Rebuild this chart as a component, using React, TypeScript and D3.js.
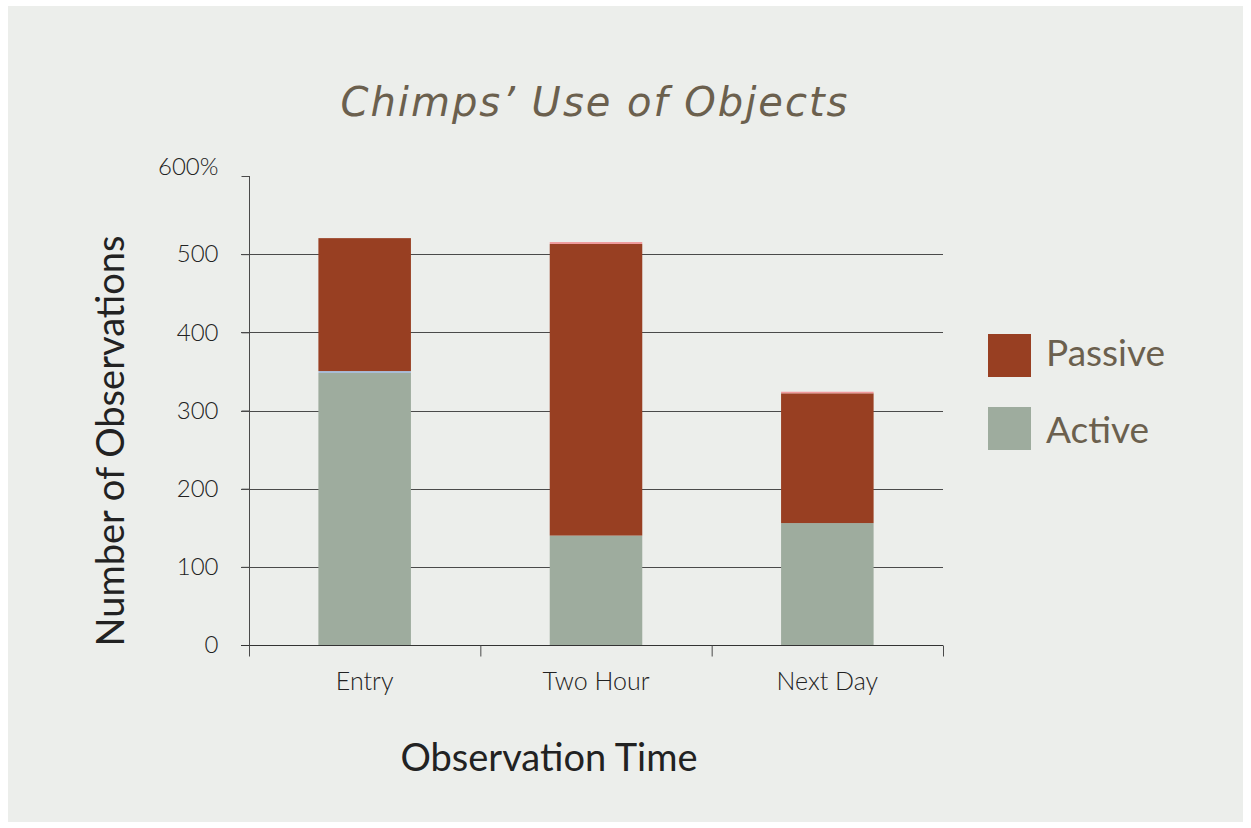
import React, { useEffect, useRef } from 'react';
import * as d3 from 'd3';

const categories = ['Entry', 'Two Hour', 'Next Day'];
const active = [348, 140, 156];
const boundary = [2.5, 0, 0];
const passive = [170, 373, 166];
const topSliver = [0, 2.5, 2];
const yTicks = [0, 100, 200, 300, 400, 500, 600];

const seriesKeys = ['Active', 'Boundary', 'Passive', 'Top'];
const seriesColors: Record<string, string> = {
  Active: '#9eac9e',
  Boundary: '#a8bcd6',
  Passive: '#983f22',
  Top: '#f09a9c',
};
const legendItems = ['Passive', 'Active'];

const App = () => {
  const ref = useRef<SVGSVGElement>(null);

  useEffect(() => {
    const width = 1251;
    const height = 828;
    const margin = { top: 176, right: 308, bottom: 183, left: 249 };

    const svg = d3.select(ref.current);
    svg.selectAll('*').remove();

    // panel background
    svg.append('rect')
      .attr('x', 8).attr('y', 6)
      .attr('width', 1235).attr('height', 816)
      .attr('fill', '#eceeeb');

    const rows = categories.map((c, i) => ({
      cat: c,
      Active: active[i],
      Boundary: boundary[i],
      Passive: passive[i],
      Top: topSliver[i],
    }));

    const x = d3.scaleBand()
      .domain(categories)
      .range([margin.left, width - margin.right])
      .paddingInner(0.6)
      .paddingOuter(0.3);

    const y = d3.scaleLinear()
      .domain([0, 600])
      .range([height - margin.bottom, margin.top]);

    const font = 'Lato, "Noto Sans", sans-serif';

    // gridlines
    svg.append('g')
      .selectAll('line')
      .data(yTicks.filter(t => t > 0 && t < 600))
      .enter().append('line')
      .attr('x1', margin.left - 8)
      .attr('x2', width - margin.right)
      .attr('y1', d => Math.round(y(d)) + 0.5)
      .attr('y2', d => Math.round(y(d)) + 0.5)
      .attr('stroke', '#4a4a4a')
      .attr('stroke-width', 1);

    // stacked bars
    const stack = d3.stack<any>().keys(seriesKeys);
    const layers = stack(rows);
    svg.append('g')
      .selectAll('g')
      .data(layers)
      .enter().append('g')
      .attr('fill', d => seriesColors[d.key])
      .selectAll('rect')
      .data(d => d)
      .enter().append('rect')
      .attr('x', d => x(d.data.cat) as number)
      .attr('y', d => y(d[1]))
      .attr('width', x.bandwidth())
      .attr('height', d => Math.max(0, y(d[0]) - y(d[1])));

    // y axis
    const yAxis = svg.append('g')
      .attr('transform', `translate(${margin.left + 0.5},0)`)
      .call(d3.axisLeft(y).tickValues(yTicks).tickSize(8).tickPadding(23)
        .tickFormat(d => (d === 600 ? '600%' : String(d))));
    yAxis.select('.domain')
      .attr('d', `M0,${y(600)}V${y(0) + 8}`)
      .attr('stroke', '#4a4a4a');
    yAxis.selectAll('.tick line').attr('stroke', '#4a4a4a');
    yAxis.selectAll('text')
      .attr('font-family', font)
      .attr('font-weight', 300)
      .attr('font-size', 24)
      .attr('fill', '#222');
    yAxis.select('.tick:last-of-type text').attr('dy', '-0.05em');

    // x axis
    const baseY = Math.round(y(0)) + 0.5;
    svg.append('line')
      .attr('x1', margin.left - 8).attr('x2', width - margin.right)
      .attr('y1', baseY).attr('y2', baseY)
      .attr('stroke', '#333');
    const step = (width - margin.right - margin.left) / categories.length;
    svg.append('g')
      .selectAll('line')
      .data(d3.range(categories.length + 1))
      .enter().append('line')
      .attr('x1', i => margin.left + 0.5 + i * step)
      .attr('x2', i => margin.left + 0.5 + i * step)
      .attr('y1', baseY)
      .attr('y2', baseY + 11)
      .attr('stroke', '#4a4a4a');
    svg.append('g')
      .selectAll('text')
      .data(categories)
      .enter().append('text')
      .attr('x', d => (x(d) as number) + x.bandwidth() / 2)
      .attr('y', 690)
      .attr('text-anchor', 'middle')
      .attr('font-family', font)
      .attr('font-weight', 300)
      .attr('font-size', 25)
      .attr('fill', '#222')
      .text(d => d);

    // axis titles
    svg.append('text')
      .attr('x', 549).attr('y', 771)
      .attr('text-anchor', 'middle')
      .attr('font-family', font)
      .attr('font-size', 38)
      .attr('fill', '#222')
      .text('Observation Time');

    svg.append('text')
      .attr('transform', 'translate(124,441) rotate(-90)')
      .attr('text-anchor', 'middle')
      .attr('font-family', font)
      .attr('font-size', 38)
      .attr('fill', '#222')
      .text('Number of Observations');

    // title
    svg.append('text')
      .attr('x', 595).attr('y', 116)
      .attr('text-anchor', 'middle')
      .attr('font-family', '"Comic Sans MS", "DejaVu Sans", sans-serif')
      .attr('font-style', 'italic')
      .attr('font-size', 40)
      .attr('letter-spacing', 2)
      .attr('fill', '#6b604e')
      .text('Chimps\u2019 Use of Objects');

    // legend
    const legend = svg.append('g');
    legendItems.forEach((k, i) => {
      legend.append('rect')
        .attr('x', 988).attr('y', 334 + i * 73)
        .attr('width', 43).attr('height', 43)
        .attr('fill', seriesColors[k]);
      legend.append('text')
        .attr('x', 1046).attr('y', 366 + i * 77)
        .attr('font-family', font)
        .attr('font-size', 37)
        .attr('fill', '#6b604e')
        .text(k);
    });
  }, []);

  return (
    <svg ref={ref} width={1251} height={828}
      style={{ position: 'absolute', left: 0, top: 0 }} />
  );
};

export default App;
